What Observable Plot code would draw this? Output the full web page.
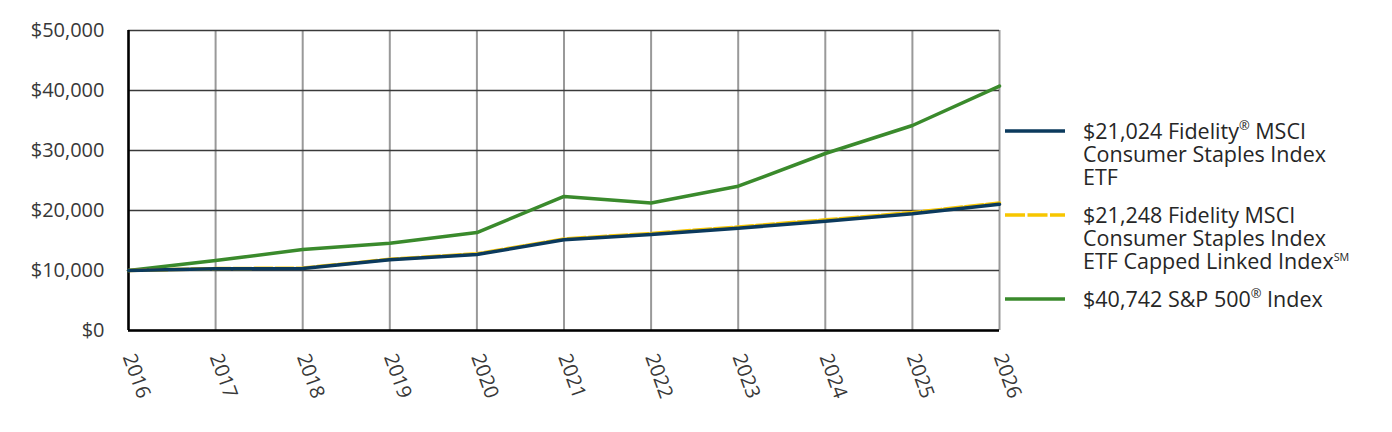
<!DOCTYPE html>
<html>
<head>
<meta charset="utf-8">
<script src="https://cdn.jsdelivr.net/npm/d3@7"></script>
<script src="https://cdn.jsdelivr.net/npm/@observablehq/plot@0.6"></script>
<style>
  html, body { margin: 0; padding: 0; background: #fff; }
  #wrap { position: relative; width: 1392px; height: 432px; font-family: "Open Sans", sans-serif; color: #262626; }
  .leg { position: absolute; left: 1005px; font-size: 21.5px; line-height: 23px; }
  .leg .txt { position: absolute; left: 78px; top: 0; white-space: nowrap; }
  .leg svg { position: absolute; left: 0; }
  sup { font-size: 0.6em; line-height: 0; vertical-align: 0.7em; }
</style>
</head>
<body>
<div id="wrap"></div>
<script>
const years = [2016, 2017, 2018, 2019, 2020, 2021, 2022, 2023, 2024, 2025, 2026];
const etfValues = [10000, 10280, 10330, 11780, 12670, 15110, 16000, 17050, 18220, 19440, 21024];
const indexValues = [10000, 10320, 10400, 11870, 12790, 15260, 16170, 17250, 18440, 19660, 21248];
const spValues = [10000, 11650, 13500, 14550, 16330, 22350, 21250, 24050, 29500, 34170, 40742];
const yTicks = [0, 10000, 20000, 30000, 40000, 50000];
const seriesNames = ["ETF", "Index", "S&P 500"];

const rows = [];
years.forEach((yr, i) => {
  rows.push({year: yr, value: etfValues[i], series: seriesNames[0]});
  rows.push({year: yr, value: indexValues[i], series: seriesNames[1]});
  rows.push({year: yr, value: spValues[i], series: seriesNames[2]});
});
const navy = "#0b3a5d", gold = "#f7c600", green = "#3a8a2c";

const chart = Plot.plot({
  width: 1392,
  height: 432,
  marginLeft: 128,
  marginRight: 393,
  marginTop: 30,
  marginBottom: 102,
  style: {fontFamily: "'Open Sans', sans-serif", fontSize: "20px", color: "#383838", background: "white", overflow: "visible"},
  x: {domain: [2016, 2026]},
  y: {domain: [0, 50000]},
  marks: [
    Plot.gridX(years, {stroke: "#999", strokeOpacity: 1, strokeWidth: 2}),
    Plot.gridY(yTicks, {stroke: "#3a3a3a", strokeOpacity: 1, strokeWidth: 1.5}),
    Plot.axisY({ticks: yTicks, tickSize: 0, tickPadding: 24, fontSize: 20, label: null, tickFormat: d => "$" + d3.format(",")(d)}),
    Plot.axisX({ticks: years, tickSize: 0, tickPadding: 24, tickRotate: 70, fontSize: 20, label: null, tickFormat: d => String(d)}),
    Plot.ruleX([2016], {stroke: "#000", strokeWidth: 2.5}),
    Plot.ruleY([0], {stroke: "#000", strokeWidth: 2.5}),
    Plot.line(rows.filter(d => d.series === seriesNames[2]), {x: "year", y: "value", stroke: green, strokeWidth: 3.5}),
    Plot.line(rows.filter(d => d.series === seriesNames[1]), {x: "year", y: "value", stroke: gold, strokeWidth: 3.5, strokeDasharray: "18,3"}),
    Plot.line(rows.filter(d => d.series === seriesNames[0]), {x: "year", y: "value", stroke: navy, strokeWidth: 3.5})
  ]
});
const wrap = document.getElementById("wrap");
wrap.appendChild(chart);

const legend = [
  {top: 119, color: navy, dash: null, html: "$21,024 Fidelity<sup>®</sup> MSCI<br>Consumer Staples Index<br>ETF"},
  {top: 203, color: gold, dash: "20,2.5", html: "$21,248 Fidelity MSCI<br>Consumer Staples Index<br>ETF Capped Linked Index<sup style=\"font-size:0.5em\">SM</sup>"},
  {top: 287, color: green, dash: null, html: "$40,742 S&amp;P 500<sup>®</sup> Index"}
];
legend.forEach(l => {
  const d = document.createElement("div");
  d.className = "leg";
  d.style.top = l.top + "px";
  d.innerHTML = `<svg width="60" height="6" style="top:${11.5 - 3}px"><line x1="0" x2="60" y1="3" y2="3" stroke="${l.color}" stroke-width="3.5" ${l.dash ? `stroke-dasharray="${l.dash}"` : ""}/></svg><div class="txt">${l.html}</div>`;
  wrap.appendChild(d);
});
</script>
</body>
</html>
